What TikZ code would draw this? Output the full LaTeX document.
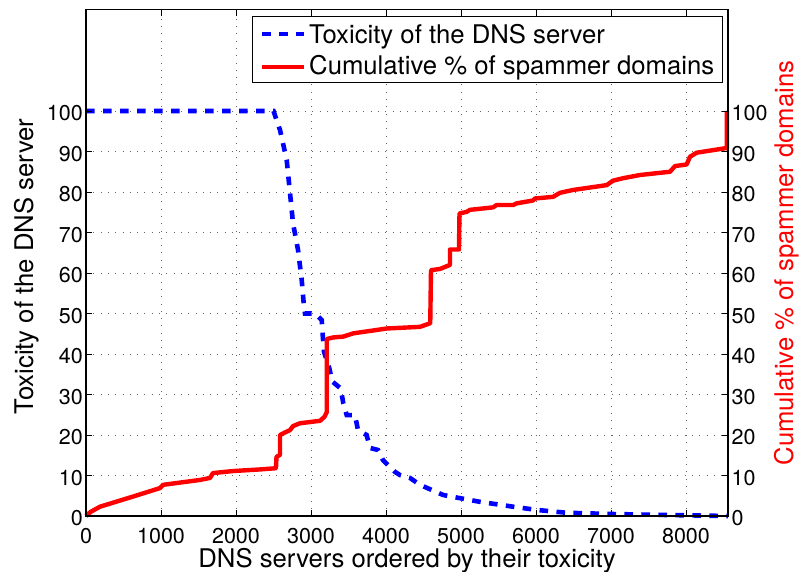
\documentclass[tikz,border=0pt]{standalone}
\usepackage{fontspec}
\setmainfont{TeX Gyre Heros}
\begin{document}
\begin{tikzpicture}[
  x=1pt, y=1pt,
  gridline/.style={black!60, line width=0.7pt, dash pattern=on 0.8pt off 6.5pt},
  axisframe/.style={black, line width=1.1pt},
  tickmark/.style={black, line width=0.9pt},
  ticklabel/.style={font=\fontsize{21.5}{22}\selectfont, inner sep=0pt},
  axislabel/.style={font=\fontsize{25.7}{27}\selectfont, inner sep=0pt},
  toxcurve/.style={blue, line width=4.6pt, dash pattern=on 8.6pt off 8.4pt},
  spamcurve/.style={red, line width=4.4pt, line join=round},
]
\useasboundingbox (0,0) rectangle (799,571);

% data area: x in servers (0..8560), y in percent (0..125)
\begin{scope}[shift={(86,55)}, x=0.075pt, y=4.05pt]
  % dotted grid
  \foreach \gx in {1000,2000,...,8000}
    \draw[gridline] (\gx,0) -- (\gx,125);
  \foreach \gy in {10,20,...,100}
    \draw[gridline] (0,\gy) -- (8560,\gy);

  % toxicity of each DNS server
  \draw[toxcurve] (0,100) -- (2500,100) -- (2587,95.3) -- (2676,87.9)
    -- (2720,79.8) -- (2760,72.3) -- (2827,65.7) -- (2876,58.3)
    -- (2907,51.6) -- (2920,50) -- (3053,50) -- (3143,48.4)
    -- (3156,44.7) -- (3173,40.6) -- (3244,36.5) -- (3284,33.2)
    -- (3396,31.5) -- (3431,27.8) -- (3476,24.9) -- (3587,24.9)
    -- (3627,21.2) -- (3742,20) -- (3787,16.8) -- (3893,16.3)
    -- (3960,13.8) -- (4120,10.9) -- (4187,10.1) -- (4320,9.4)
    -- (4453,7.7) -- (4760,5.2) -- (4987,4.4) -- (5253,3.5)
    -- (5693,2.3) -- (6009,1.5) -- (6409,0.8) -- (6987,0.5)
    -- (7743,0.25) -- (8560,0);

  % cumulative share of spammer domains
  \draw[spamcurve] (0,0) -- (60,1) -- (187,2.3) -- (627,4.8) -- (987,6.9)
    -- (1027,7.7) -- (1520,8.9) -- (1653,9.4) -- (1693,10.6)
    -- (1960,11.1) -- (2320,11.5) -- (2533,11.8) -- (2540,14.6)
    -- (2587,15.1) -- (2587,20) -- (2650,20.6) -- (2720,21.2)
    -- (2760,22.2) -- (2853,22.9) -- (3120,23.5) -- (3180,24.5)
    -- (3210,25.6) -- (3210,43.7) -- (3300,44.1) -- (3431,44.3)
    -- (3564,45.1) -- (3827,45.8) -- (4009,46.3) -- (4453,46.7)
    -- (4590,47.6) -- (4600,60.7) -- (4720,61) -- (4853,62)
    -- (4853,65.8) -- (4973,65.8) -- (4980,74.7) -- (5076,75.1)
    -- (5120,75.6) -- (5427,76.2) -- (5476,76.8) -- (5698,76.8)
    -- (5742,77.2) -- (5960,77.9) -- (5987,78.4) -- (6227,78.8)
    -- (6320,79.8) -- (6493,80.5) -- (6943,81.7) -- (7027,82.8)
    -- (7160,83.4) -- (7387,84.2) -- (7787,85) -- (7853,86.4)
    -- (8009,86.8) -- (8053,88.7) -- (8142,89.7) -- (8520,90.8)
    -- (8545,90.8) -- (8545,100);

  % frame and ticks
  \draw[axisframe] (0,0) rectangle (8560,125);
  \foreach \gx in {1000,2000,...,8000} {
    \draw[tickmark] (\gx,0) -- ++(0,6pt);
    \draw[tickmark] (\gx,125) -- ++(0,-6pt);
  }
  \foreach \gy in {10,20,...,100} {
    \draw[tickmark] (0,\gy) -- ++(6pt,0);
    \draw[tickmark] (8560,\gy) -- ++(-6pt,0);
  }

  % tick labels
  \foreach \gx in {0,1000,...,8000}
    \node[ticklabel, anchor=north, yshift=-12pt] (xt\gx) at (\gx,0) {\gx};
  \foreach \gy in {0,10,...,100} {
    \node[ticklabel, anchor=east, xshift=-3pt, yshift=-2.5pt] (yl\gy) at (0,\gy) {\gy};
    \node[ticklabel, anchor=west, xshift=3.5pt, yshift=-2.5pt] (yr\gy) at (8560,\gy) {\gy};
  }
\end{scope}

% axis titles
\node[axislabel, anchor=base] (xlab) at (407,4) {DNS servers ordered by their toxicity};
\node[axislabel, anchor=base, rotate=90] (ylab) at (33,304.5) {Toxicity of the DNS server};
\node[axislabel, anchor=base, rotate=90, red] (y2lab) at (793.2,308) {Cumulative \% of spammer domains};

% legend
\node[draw, fill=white, line width=1.1pt, inner sep=0pt, anchor=south west,
      minimum width=470pt, minimum height=66pt] (legendbox) at (252,488) {};
\coordinate (toxa) at (262,537);
\coordinate (toxb) at (304,537);
\coordinate (spama) at (262,504);
\coordinate (spamb) at (304,504);
\draw[toxcurve] (toxa) -- (toxb);
\draw[spamcurve] (spama) -- (spamb);
\node[axislabel, anchor=base west] (legtox) at (309,527) {Toxicity of the DNS server};
\node[axislabel, anchor=base west] (legspam) at (309,496) {Cumulative \% of spammer domains};
\end{tikzpicture}
\end{document}
